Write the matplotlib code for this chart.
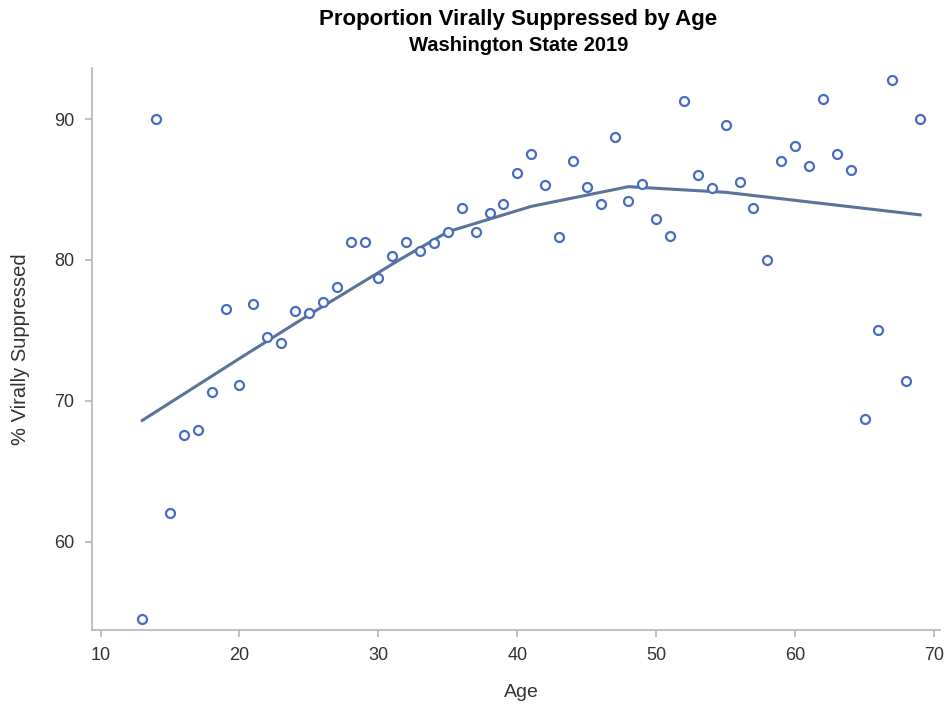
import matplotlib
matplotlib.use("Agg")
import matplotlib.pyplot as plt

plt.rcParams["font.family"] = ["Liberation Sans", "DejaVu Sans"]

# observed proportion virally suppressed by single year of age
ages = [13, 14, 15, 16, 17, 18, 19, 20, 21, 22, 23, 24, 25, 26, 27, 28, 29, 30,
        31, 32, 33, 34, 35, 36, 37, 38, 39, 40, 41, 42, 43, 44, 45, 46, 47, 48,
        49, 50, 51, 52, 53, 54, 55, 56, 57, 58, 59, 60, 61, 62, 63, 64, 65, 66,
        67, 68, 69]
pct = [54.5, 90.0, 62.0, 67.6, 67.9, 70.6, 76.5, 71.1, 76.9, 74.5, 74.1, 76.4,
       76.2, 77.0, 78.1, 81.3, 81.3, 78.7, 80.3, 81.3, 80.6, 81.2, 82.0, 83.7,
       82.0, 83.3, 84.0, 86.2, 87.5, 85.3, 81.6, 87.0, 85.2, 84.0, 88.7, 84.2,
       85.4, 82.9, 81.7, 91.3, 86.0, 85.1, 89.6, 85.5, 83.7, 80.0, 87.0, 88.1,
       86.7, 91.4, 87.5, 86.4, 68.7, 75.0, 92.8, 71.4, 90.0]

# smoothed fit
fit_age = [13, 20, 25, 31.5, 35, 41, 48, 55, 62, 69]
fit_pct = [68.6, 73.0, 76.1, 80.0, 82.0, 83.8, 85.2, 84.8, 84.0, 83.2]

fig = plt.figure(figsize=(9.51, 7.05), dpi=100)
ax = fig.add_axes([0.097, 0.106, 0.891, 0.797])

ax.plot(fit_age, fit_pct, color="#5b7399", lw=2.2, zorder=2)
ax.scatter(ages, pct, s=42, facecolors="white", edgecolors="#4a6cc0",
           linewidths=1.6, zorder=3)

ax.set_xlim(9.4, 70.4)
ax.set_ylim(53.7, 93.6)
ax.set_xticks([10, 20, 30, 40, 50, 60, 70])
ax.set_yticks([60, 70, 80, 90])

for s in ["top", "right"]:
    ax.spines[s].set_visible(False)
for s in ["left", "bottom"]:
    ax.spines[s].set_color("#b8bcc0")
    ax.spines[s].set_linewidth(1.3)
ax.tick_params(colors="#b8bcc0", labelcolor="#333333", labelsize=13,
               length=5, width=1.3)
ax.tick_params(axis="x", pad=7)
ax.tick_params(axis="y", pad=8)

ax.set_xlabel("Age", fontsize=14, color="#333333")
ax.set_ylabel("% Virally Suppressed", fontsize=14.5, color="#333333")
ax.xaxis.label.set_va("center")
ax.yaxis.label.set_va("center")
ax.xaxis.set_label_coords(0.506, -0.11)
ax.yaxis.set_label_coords(-0.085, 0.5)

fig.text(0.545, 0.972, "Proportion Virally Suppressed by Age", ha="center",
         va="center", fontsize=16, fontweight="bold")
fig.text(0.545, 0.935, "Washington State 2019", ha="center", va="center",
         fontsize=14.5, fontweight="bold")

fig.savefig("out.png", dpi=100)
